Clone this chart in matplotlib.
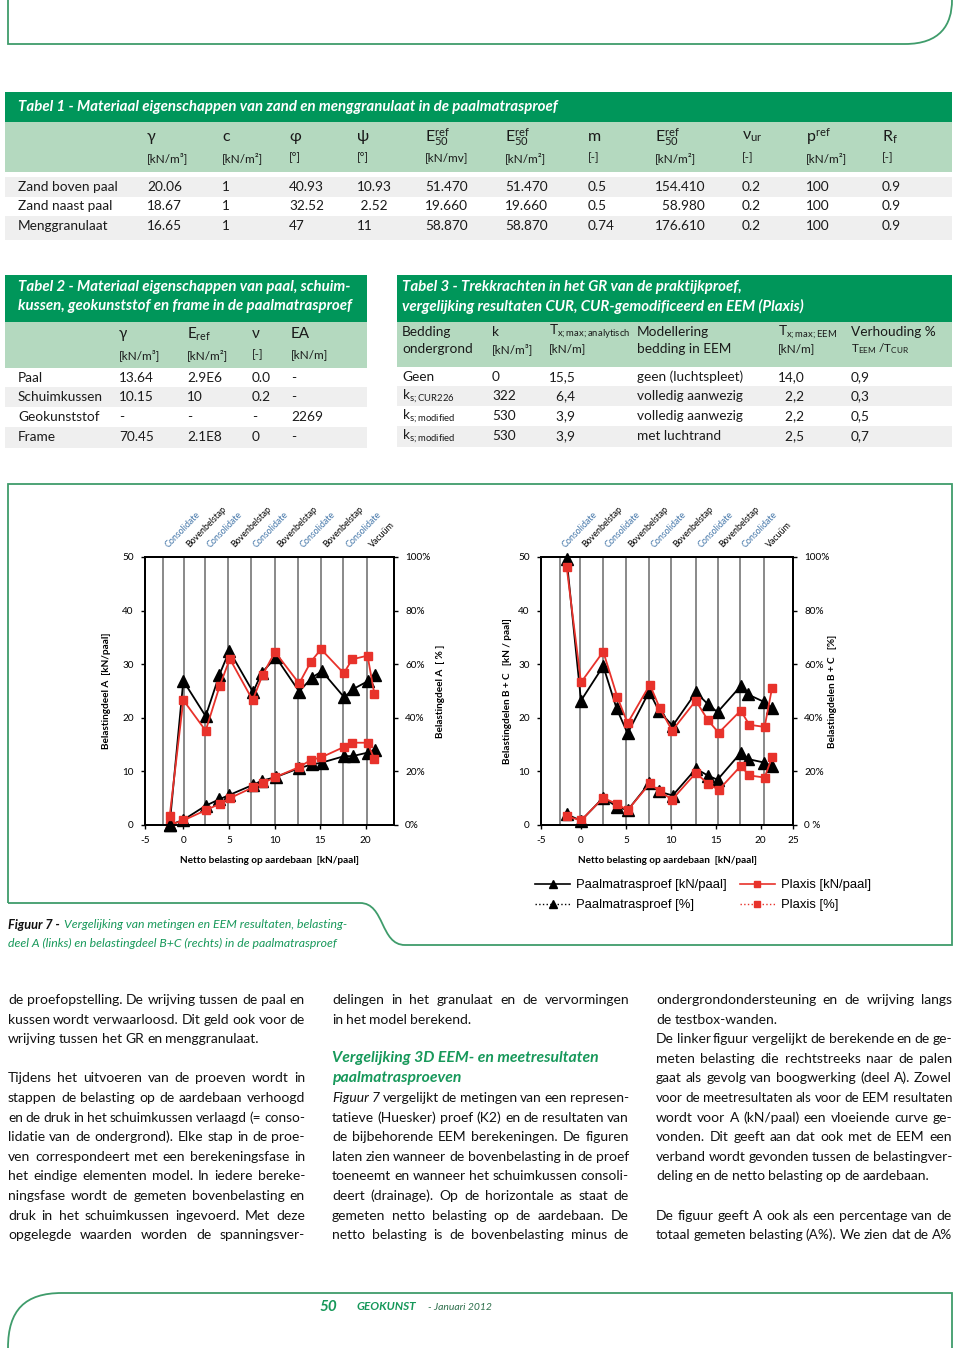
import numpy as np
import matplotlib.pyplot as plt
from matplotlib.path import Path
from matplotlib.patches import PathPatch, Rectangle
from matplotlib.lines import Line2D
from matplotlib.transforms import blended_transform_factory

plt.rcParams['mathtext.fontset'] = 'custom'
plt.rcParams['mathtext.rm'] = 'Lato'
plt.rcParams['mathtext.it'] = 'Lato:italic'
plt.rcParams['mathtext.bf'] = 'Lato:bold'

SANS = ['Lato', 'DejaVu Sans']
GREEN = '#00965a'
LIGHT = '#b4d9bf'
ROW = '#efefef'
TGREEN = '#17985a'
RED = '#e8322b'
BLUE = '#4275a8'
LINE_GREEN = '#3f9c6b'

# ---------------- data: tables ----------------
t1_title = 'Tabel 1 - Materiaal eigenschappen van zand en menggranulaat in de paalmatrasproef'
t1_symbols = ['γ', 'c', 'φ', 'ψ', r'$\mathrm{E}_{50}^{\mathrm{ref}}$', r'$\mathrm{E}_{50}^{\mathrm{ref}}$',
              'm', r'$\mathrm{E}_{50}^{\mathrm{ref}}$', r'ν$_{\mathrm{ur}}$', r'p$^{\mathrm{ref}}$', r'R$_{\mathrm{f}}$']
t1_units = ['[kN/m³]', '[kN/m²]', '[°]', '[°]', '[kN/mv]', '[kN/m²]', '[-]', '[kN/m²]', '[-]', '[kN/m²]', '[-]']
t1_names = ['Zand boven paal', 'Zand naast paal', 'Menggranulaat']
t1_values = [
    ['20.06', '1', '40.93', '10.93', '51.470', '51.470', '0.5', '154.410', '0.2', '100', '0.9'],
    ['18.67', '1', '32.52', ' 2.52', '19.660', '19.660', '0.5', '  58.980', '0.2', '100', '0.9'],
    ['16.65', '1', '47', '11', '58.870', '58.870', '0.74', '176.610', '0.2', '100', '0.9'],
]

t2_title = ['Tabel 2 - Materiaal eigenschappen van paal, schuim-',
            'kussen, geokunststof en frame in de paalmatrasproef']
t2_symbols = ['γ', r'E$_{\mathrm{ref}}$', 'ν', 'EA']
t2_units = ['[kN/m³]', '[kN/m²]', '[-]', '[kN/m]']
t2_names = ['Paal', 'Schuimkussen', 'Geokunststof', 'Frame']
t2_values = [
    ['13.64', '2.9E6', '0.0', '-'],
    ['10.15', '10', '0.2', '-'],
    ['-', '-', '-', '2269'],
    ['70.45', '2.1E8', '0', '-'],
]

t3_title = ['Tabel 3 - Trekkrachten in het GR van de praktijkproef,',
            'vergelijking resultaten CUR, CUR-gemodificeerd en EEM (Plaxis)']
t3_head1 = ['Bedding', 'k', r'T$_{\mathrm{x;max;analytisch}}$', 'Modellering', r'T$_{\mathrm{x;max;EEM}}$', 'Verhouding %']
t3_head2 = ['ondergrond', '[kN/m³]', '[kN/m]', 'bedding in EEM', '[kN/m]',
            r'T$_{\mathrm{EEM}}$ /T$_{\mathrm{CUR}}$']
t3_rows = [
    ['Geen', '0', '15,5', 'geen (luchtspleet)', '14,0', '0,9'],
    [r'k$_{\mathrm{s;CUR226}}$', '322', '  6,4', 'volledig aanwezig', '  2,2', '0,3'],
    [r'k$_{\mathrm{s;modified}}$', '530', '  3,9', 'volledig aanwezig', '  2,2', '0,5'],
    [r'k$_{\mathrm{s;modified}}$', '530', '  3,9', 'met luchtrand', '  2,5', '0,7'],
]

# ---------------- data: figure 7 ----------------
phase_labels = ['Consolidate', 'Bovenbelstap', 'Consolidate', 'Bovenbelstap', 'Consolidate',
                'Bovenbelstap', 'Consolidate', 'Bovenbelstap', 'Consolidate', 'Vacuüm']
phases_A = [-2.2, 0.05, 2.4, 4.95, 7.45, 10.0, 12.6, 15.1, 17.55, 20.15]
phases_BC = [-2.33, -0.1, 2.41, 5.0, 7.6, 10.0, 12.8, 15.2, 17.7, 20.4]

# left: belastingdeel A
x_exp_A = [-1.5, 0.0, 2.45, 3.95, 5.05, 7.65, 8.6, 10.15, 12.7, 14.1, 15.2, 17.65, 18.55, 20.2, 21.0]
kn_exp_A = [0.0, 0.95, 3.6, 4.8, 5.6, 7.5, 8.25, 8.95, 10.6, 11.3, 11.65, 12.85, 12.85, 13.5, 14.0]
pct_exp_A = [0.0, 53.8, 40.6, 56.0, 65.0, 49.6, 56.8, 62.6, 49.8, 55.0, 57.4, 47.6, 50.6, 53.6, 55.8]
x_plx_A = [-1.5, 0.0, 2.45, 4.0, 5.1, 7.6, 8.7, 10.05, 12.7, 14.0, 15.1, 17.6, 18.5, 20.2, 20.95]
kn_plx_A = [0.0, 0.85, 2.75, 3.95, 5.0, 7.0, 7.8, 8.9, 10.8, 12.15, 12.6, 14.55, 15.35, 15.35, 12.25]
pct_plx_A = [3.2, 46.6, 35.2, 52.0, 62.0, 46.6, 56.0, 64.6, 52.8, 61.0, 65.6, 56.6, 61.8, 63.2, 48.8]

# right: belastingdelen B + C
x_exp_BC = [-1.6, 0.0, 2.48, 3.96, 5.19, 7.6, 8.67, 10.2, 12.8, 14.15, 15.2, 17.8, 18.6, 20.4, 21.3]
kn_exp_BC = [2.0, 0.8, 5.1, 3.45, 2.75, 7.8, 6.25, 5.5, 10.5, 9.2, 8.45, 13.5, 12.3, 11.65, 10.95]
pct_exp_BC = [99.4, 46.4, 59.3, 43.5, 34.2, 49.8, 42.6, 37.0, 49.5, 45.0, 42.1, 51.9, 48.7, 45.9, 43.7]
x_plx_BC = [-1.6, 0.0, 2.48, 4.04, 5.19, 7.67, 8.78, 10.15, 12.78, 14.15, 15.33, 17.78, 18.74, 20.44, 21.26]
kn_plx_BC = [1.65, 0.85, 5.05, 3.9, 2.75, 7.75, 6.25, 4.75, 9.7, 7.7, 6.55, 11.0, 9.25, 8.85, 12.65]
pct_plx_BC = [96.4, 53.2, 64.7, 47.8, 38.0, 52.4, 43.5, 35.2, 46.4, 39.0, 34.4, 42.7, 37.4, 36.6, 51.0]

legend_labels = ['Paalmatrasproef [kN/paal]', 'Paalmatrasproef [%]', 'Plaxis [kN/paal]', 'Plaxis [%]']

# ---------------- body text ----------------
col1 = [
    'de proefopstelling. De wrijving tussen de paal en',
    'kussen wordt verwaarloosd. Dit geld ook voor de',
    '*wrijving tussen het GR en menggranulaat.',
    '',
    'Tijdens het uitvoeren van de proeven wordt in',
    'stappen de belasting op de aardebaan verhoogd',
    'en de druk in het schuimkussen verlaagd (= conso-',
    'lidatie van de ondergrond). Elke stap in de proe-',
    'ven correspondeert met een berekeningsfase in',
    'het eindige elementen model. In iedere bereke-',
    'ningsfase wordt de gemeten bovenbelasting en',
    'druk in het schuimkussen ingevoerd. Met deze',
    'opgelegde waarden worden de spanningsver-',
]
col2 = [
    'delingen in het granulaat en de vervormingen',
    '*in het model berekend.',
    '',
    '',
    '',
    '_Figuur _7 vergelijkt de metingen van een represen-',
    'tatieve (Huesker) proef (K2) en de resultaten van',
    'de bijbehorende EEM berekeningen. De figuren',
    'laten zien wanneer de bovenbelasting in de proef',
    'toeneemt en wanneer het schuimkussen consoli-',
    'deert (drainage). Op de horizontale as staat de',
    'gemeten netto belasting op de aardebaan. De',
    'netto belasting is de bovenbelasting minus de',
]
col2_heading = ['Vergelijking 3D EEM- en meetresultaten', 'paalmatrasproeven']
col3 = [
    'ondergrondondersteuning en de wrijving langs',
    '*de testbox-wanden.',
    'De linker figuur vergelijkt de berekende en de ge-',
    'meten belasting die rechtstreeks naar de palen',
    'gaat als gevolg van boogwerking (deel A). Zowel',
    'voor de meetresultaten als voor de EEM resultaten',
    'wordt voor A (kN/paal) een vloeiende curve ge-',
    'vonden. Dit geeft aan dat ook met de EEM een',
    'verband wordt gevonden tussen de belastingver-',
    '*deling en de netto belasting op de aardebaan.',
    '',
    'De figuur geeft A ook als een percentage van de',
    'totaal gemeten belasting (A%). We zien dat de A%',
]

W, H = 960, 1348
fig = plt.figure(figsize=(W / 100, H / 100), dpi=100)
bg = fig.add_axes([0, 0, 1, 1])
bg.set_xlim(0, W)
bg.set_ylim(H, 0)
bg.axis('off')
r = fig.canvas.get_renderer()


def txt(x, y, s, size=9, **kw):
    kw.setdefault('family', SANS)
    kw.setdefault('va', 'center')
    kw.setdefault('color', '#1a1a1a')
    return bg.text(x, y, s, fontsize=size, **kw)


def border(verts, codes, color=LINE_GREEN, lw=1.3):
    bg.add_patch(PathPatch(Path(verts, codes), fill=False, edgecolor=color, lw=lw))


M, L, C = Path.MOVETO, Path.LINETO, Path.CURVE4
# page borders
border([(8, 0), (8, 44), (905, 44), (940, 44), (952, 25), (952, 0)], [M, L, L, C, C, C])
border([(8, 1348), (8, 1310), (25, 1293), (62, 1293), (952, 1293), (952, 1348)], [M, C, C, C, L, L])

TS = 9.8    # table text size
HS = 10.8   # table title size

# ---------------- table 1 ----------------
bg.add_patch(Rectangle((5, 92), 947, 30, color=GREEN, lw=0))
txt(18, 107, t1_title, HS, color='white', weight='bold', style='italic')
bg.add_patch(Rectangle((5, 122), 947, 50, color=LIGHT, lw=0))
t1_x = [147, 222, 289, 357, 425, 505, 588, 655, 742, 806, 882]
for x, s, u in zip(t1_x, t1_symbols, t1_units):
    txt(x, 137, s, 11.5)
    txt(x, 158, u, 8.5)
row_y = [187, 206, 226]
for i, (name, vals) in enumerate(zip(t1_names, t1_values)):
    if i != 1:
        bg.add_patch(Rectangle((5, row_y[i] - 10), 947, 19.5 if i == 0 else 24, color=ROW, lw=0))
    txt(18, row_y[i], name, TS)
    for x, v in zip(t1_x, vals):
        txt(x, row_y[i], v, TS)

# ---------------- table 2 ----------------
bg.add_patch(Rectangle((5, 275), 362, 47, color=GREEN, lw=0))
txt(18, 287, t2_title[0], HS, color='white', weight='bold', style='italic')
txt(18, 306, t2_title[1], HS, color='white', weight='bold', style='italic')
bg.add_patch(Rectangle((5, 322), 362, 46, color=LIGHT, lw=0))
t2_x = [119, 187, 252, 291]
for x, s, u in zip(t2_x, t2_symbols, t2_units):
    txt(x, 334, s, 11)
    txt(x, 355, u, 8.5)
t2_y = [378, 397, 417, 437]
for i, (name, vals) in enumerate(zip(t2_names, t2_values)):
    if i % 2 == 1:
        bg.add_patch(Rectangle((5, t2_y[i] - 10), 362, 20 if i == 1 else 21, color=ROW, lw=0))
    txt(18, t2_y[i], name, TS)
    for x, v in zip(t2_x, vals):
        txt(x, t2_y[i], v, TS)

# ---------------- table 3 ----------------
bg.add_patch(Rectangle((397, 275), 555, 47, color=GREEN, lw=0))
txt(402, 287, t3_title[0], HS, color='white', weight='bold', style='italic')
txt(402, 306, t3_title[1], HS, color='white', weight='bold', style='italic')
bg.add_patch(Rectangle((397, 322), 555, 45, color=LIGHT, lw=0))
t3_x = [402, 492, 549, 637, 778, 851]
for x, a, b in zip(t3_x, t3_head1, t3_head2):
    txt(x, 332, a, TS)
    txt(x, 349, b, TS if x in (402, 637) else 8.5)
t3_y = [377, 396, 416, 436]
for i, vals in enumerate(t3_rows):
    if i % 2 == 1:
        bg.add_patch(Rectangle((397, t3_y[i] - 10), 555, 20 if i == 1 else 21, color=ROW, lw=0))
    for x, v in zip(t3_x, vals):
        txt(x, t3_y[i], v, TS)

# ---------------- figure 7 frame ----------------
border([(8, 903), (8, 484), (952, 484), (952, 945), (405, 945),
        (380, 945), (385, 903), (360, 903), (8, 903)],
       [M, L, L, L, L, C, C, C, L])


def chart(rect, xlim, xticks, xticklabels, phases, xe, ke, pe, xp, kp, pp,
          ylab_l, ylab_r, pct_fmt, lab_l, lab_r):
    ax = fig.add_axes(rect)
    axr = ax.twinx()
    for b in phases:
        ax.axvline(b, color='#808080', lw=1.3, zorder=0)
    ax.plot(xe, ke, color='black', marker='^', ms=8.5, lw=1.3, clip_on=False, zorder=4)
    ax.plot(xp, kp, color=RED, marker='s', ms=5.5, lw=1.3, clip_on=False, zorder=5)
    axr.plot(xe, pe, color='black', marker='^', ms=8.5, lw=1.3, clip_on=False, zorder=4)
    axr.plot(xp, pp, color=RED, marker='s', ms=5.5, lw=1.3, clip_on=False, zorder=5)
    ax.set_xlim(*xlim)
    ax.set_ylim(0, 50)
    axr.set_ylim(0, 100)
    ax.set_yticks(np.arange(0, 51, 10))
    axr.set_yticks(np.arange(0, 101, 20))
    axr.set_yticklabels(pct_fmt)
    ax.set_xticks(xticks)
    ax.set_xticklabels(xticklabels)
    for a in (ax, axr):
        a.tick_params(direction='out', length=3, width=1, labelsize=7.2, pad=5)
        for lab in a.get_xticklabels() + a.get_yticklabels():
            lab.set_family(SANS)
        for sp in a.spines.values():
            sp.set_linewidth(1.4)
    ax.set_xlabel('Netto belasting op aardebaan  [kN/paal]', fontsize=7.2, weight='bold', family=SANS)
    ax.xaxis.set_label_coords(0.5, -0.115)
    ax.set_ylabel(ylab_l, fontsize=7.2, weight='bold', family=SANS)
    ax.yaxis.set_label_coords(lab_l, 0.5)
    axr.set_ylabel(ylab_r, fontsize=7.2, weight='bold', family=SANS, rotation=90)
    axr.yaxis.set_label_coords(lab_r, 0.5)
    tr = blended_transform_factory(ax.transData, ax.transAxes)
    for b, s in zip(phases, phase_labels):
        ax.text(b + 0.8, 1.03, s, transform=tr, rotation=46, rotation_mode='anchor',
                ha='left', va='bottom', fontsize=6.4, family=SANS,
                color=BLUE if s == 'Consolidate' else 'black')
    return ax


chart([145 / W, 1 - 825 / H, 249 / W, 268 / H], (-4.2, 23.1),
      [-4.2, 0, 5, 10, 15, 20], ['-5', '0', '5', '10', '15', '20'], phases_A,
      x_exp_A, kn_exp_A, pct_exp_A, x_plx_A, kn_plx_A, pct_plx_A,
      'Belastingdeel A  [kN/paal]', 'Belastingdeel A  [ % ]',
      ['0%', '20%', '40%', '60%', '80%', '100%'], -0.135, 1.17)
chart([541 / W, 1 - 825 / H, 252 / W, 268 / H], (-4.45, 23.6),
      [-4.45, 0, 5, 10, 15, 20, 23.6], ['-5', '0', '5', '10', '15', '20', '25'], phases_BC,
      x_exp_BC, kn_exp_BC, pct_exp_BC, x_plx_BC, kn_plx_BC, pct_plx_BC,
      'Belastingdelen B + C   [kN / paal]', 'Belastingdelen B + C   [%]',
      ['0 %', '20%', '40%', '60%', '80%', '100%'], -0.115, 1.14)

handles = [
    Line2D([], [], color='black', marker='^', ms=6, lw=1.2),
    Line2D([], [], color='black', marker='^', ms=6, lw=1.0, ls=':'),
    Line2D([], [], color=RED, marker='s', ms=4.5, lw=1.2),
    Line2D([], [], color=RED, marker='s', ms=4.5, lw=1.0, ls=':'),
]
fig.legend(handles, legend_labels, ncol=2, loc='upper left', frameon=False,
           bbox_to_anchor=(535 / W, 1 - 879 / H), prop={'family': 'Liberation Sans', 'size': 9.4},
           handlelength=2.7, handletextpad=0.45, columnspacing=1.0, labelspacing=0.62,
           borderaxespad=0, borderpad=0)

# caption
t = txt(8, 925, 'Figuur 7 -', 9.2, weight='bold', style='italic', color='#111111')
wcap = t.get_window_extent(r).width
txt(8 + wcap + 4, 925, 'Vergelijking van metingen en EEM resultaten, belasting-', 8.8,
    style='italic', color=TGREEN)
txt(8, 943, 'deel A (links) en belastingdeel B+C (rechts) in de paalmatrasproef', 8.8,
    style='italic', color=TGREEN)


# ---------------- body text, justified ----------------
def put_line(x0, x1, y, line, size=10.0):
    if not line:
        return
    justify = not line.startswith('*')
    line = line.lstrip('*')
    words = line.split(' ')
    while True:
        arts = []
        for w in words:
            style = 'normal'
            if w.startswith('_'):
                w, style = w[1:], 'italic'
            arts.append(bg.text(x0, y, w, fontsize=size, family=SANS, style=style,
                                color='#111111', va='baseline'))
        widths = [a.get_window_extent(r).width for a in arts]
        gap = size * 0.3
        if justify and len(arts) > 1:
            gap = (x1 - x0 - sum(widths)) / (len(arts) - 1)
        if gap >= 2.5:
            break
        for a in arts:
            a.remove()
        size -= 0.2
    x = x0
    for a, w in zip(arts, widths):
        a.set_x(x)
        x += w + gap


line_y = [1004 + 19.6 * i for i in range(13)]
for x0, x1, lines in [(8, 305, col1), (332, 629, col2), (656, 952, col3)]:
    for y, ln in zip(line_y, lines):
        put_line(x0, x1, y, ln)
txt(332, 1058, col2_heading[0], 11.3, weight='bold', style='italic', color=TGREEN)
txt(332, 1078, col2_heading[1], 11.3, weight='bold', style='italic', color=TGREEN)

# footer
txt(320, 1307, '50', 11, weight='bold', style='italic', color=TGREEN)
txt(357, 1307, 'GEOKUNST', 8.5, weight='bold', style='italic', color=TGREEN)
txt(428, 1307, '- Januari 2012', 7.5, style='italic', color='#2c6e4a')

fig.savefig('out.png', dpi=100)
